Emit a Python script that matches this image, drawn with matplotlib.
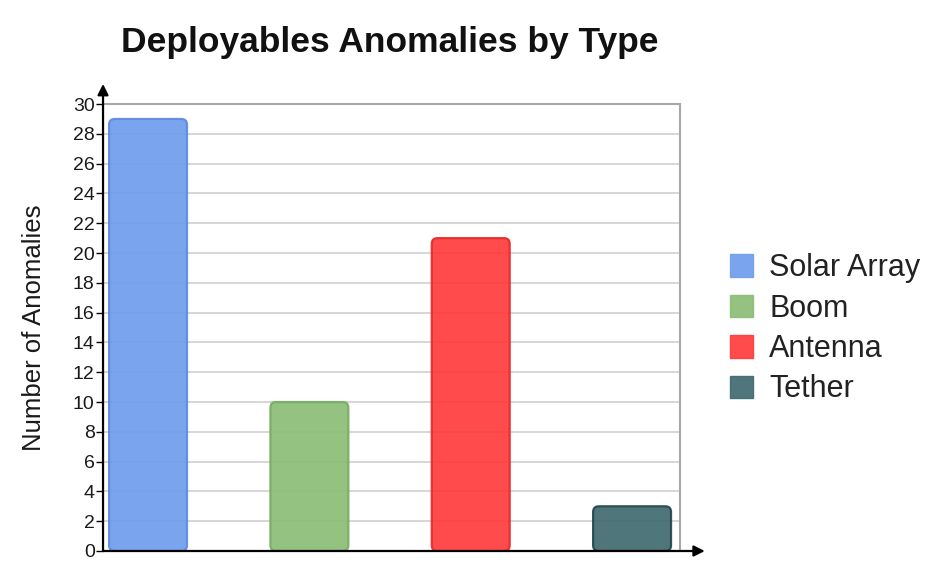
import matplotlib.pyplot as plt
from matplotlib.patches import FancyBboxPatch, Patch

categories = ["Solar Array", "Boom", "Antenna", "Tether"]
anomalies = [29, 10, 21, 3]
colors = ["#6f9ded", "#8bbd76", "#ff3b3b", "#3f6a70"]
edges = ["#5d8be0", "#77ad62", "#e82a2a", "#24474c"]
y_ticks = list(range(0, 31, 2))

plt.rcParams['font.family'] = ['Liberation Sans', 'DejaVu Sans']

fig = plt.figure(figsize=(9.4, 5.73), dpi=100)
ax = fig.add_axes([0.1096, 0.0384, 0.6138, 0.780])

x = list(range(len(categories)))
bars = ax.bar(x, anomalies, width=0.483, color=colors, zorder=3)

# swap plain rectangles for rounded ones, same geometry
for bar, fc, ec in zip(bars, colors, edges):
    bx, by = bar.get_x(), bar.get_y()
    bw, bh = bar.get_width(), bar.get_height()
    bar.set_visible(False)
    rounded = FancyBboxPatch((bx, by), bw, bh,
                             boxstyle="round,pad=0,rounding_size=0.035",
                             mutation_aspect=10.8, facecolor=fc, edgecolor=ec,
                             linewidth=1.6, alpha=0.92, zorder=3)
    ax.add_patch(rounded)

ax.set_xlim(-0.279, 3.297)
ax.set_ylim(0, 30)
ax.set_yticks(y_ticks)
ax.set_yticklabels([str(t) for t in y_ticks], fontsize=14, color="#1a1a1a")
ax.set_xticks([])
ax.tick_params(axis='y', length=5, width=1, direction='out', pad=1)
ax.yaxis.grid(True, color="#d0d0d0", linewidth=1.2, zorder=0)

for side in ["top", "right"]:
    ax.spines[side].set_color("#a8a8a8")
    ax.spines[side].set_linewidth(1.5)
ax.spines["left"].set_visible(False)
ax.spines["bottom"].set_visible(False)

# black axes with arrowheads
ax.annotate("", xy=(0, 1.045), xytext=(0, 0), xycoords="axes fraction",
            arrowprops=dict(arrowstyle="-|>", color="black", lw=1.6,
                            mutation_scale=16, shrinkA=0, shrinkB=0),
            annotation_clip=False, zorder=5)
ax.annotate("", xy=(1.043, 0), xytext=(0, 0), xycoords="axes fraction",
            arrowprops=dict(arrowstyle="-|>", color="black", lw=1.6,
                            mutation_scale=16, shrinkA=0, shrinkB=0),
            annotation_clip=False, zorder=5)

ax.set_ylabel("Number of Anomalies", fontsize=18.5, color="#1a1a1a", labelpad=19)
fig.text(0.415, 0.926, "Deployables Anomalies by Type", fontsize=25.5,
         fontweight="bold", ha="center", va="center", color="#111111")

handles = [Patch(facecolor=c, edgecolor=c, alpha=0.92) for c in colors]
fig.legend(handles, categories, loc="center left", bbox_to_anchor=(0.747, 0.426),
           frameon=False, fontsize=22, handlelength=0.75, handleheight=0.75,
           handletextpad=0.55, labelspacing=0.34, labelcolor="#222222")

fig.savefig("out.png", dpi=100)
